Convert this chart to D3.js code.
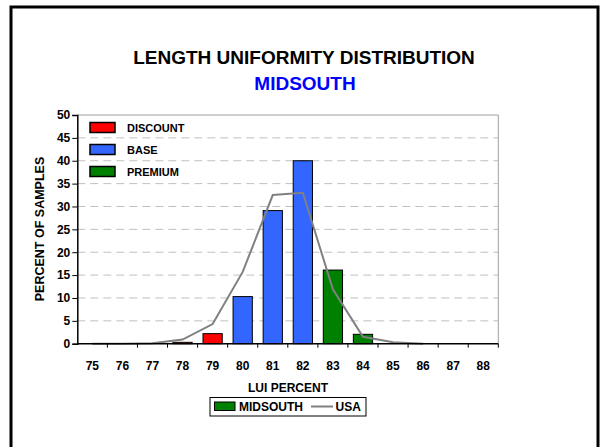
<!DOCTYPE html>
<html>
<head>
<meta charset="utf-8">
<script src="https://cdn.jsdelivr.net/npm/d3@7"></script>
<style>
  html, body { margin: 0; padding: 0; background: #fff; }
  svg { display: block; font-family: "Liberation Sans", Arial, sans-serif; }
</style>
</head>
<body>
<svg id="chart" width="600" height="447"></svg>
<script>
// LUI percent categories
const categories = ["75","76","77","78","79","80","81","82","83","84","85","86","87","88"];
// Midsouth percent of samples per category
const midsouthValues = [0, 0, 0, 0.3, 2.2, 10.3, 29.1, 40, 16.1, 2.05, 0, 0, 0, 0];
// Grade class of each Midsouth bar
const barClass = ["BASE","BASE","BASE","DISCOUNT","DISCOUNT","BASE","BASE","BASE","PREMIUM","PREMIUM","PREMIUM","PREMIUM","PREMIUM","PREMIUM"];
// USA distribution (line)
const usaValues = [0, 0, 0.1, 0.9, 4.3, 15.7, 32.5, 33.0, 11.9, 1.5, 0.3, 0, null, null];
// Y tick values
const yTicks = [0, 5, 10, 15, 20, 25, 30, 35, 40, 45, 50];
// Grade classes shown in the upper legend
const gradeNames = ["DISCOUNT", "BASE", "PREMIUM"];

const gradeColor = { DISCOUNT: "#ff0000", BASE: "#3366ff", PREMIUM: "#008000" };
const lineColor = "#808080";

const svg = d3.select("#chart");

// outer frame
svg.append("rect")
  .attr("x", 11).attr("y", 7).attr("width", 587).attr("height", 470)
  .attr("fill", "none").attr("stroke", "#000").attr("stroke-width", 3);

// titles
svg.append("text").attr("x", 304).attr("y", 64).attr("text-anchor", "middle")
  .attr("font-size", 19).attr("font-weight", "bold").attr("fill", "#000")
  .text("LENGTH UNIFORMITY DISTRIBUTION");
svg.append("text").attr("x", 305).attr("y", 90).attr("text-anchor", "middle")
  .attr("font-size", 19).attr("font-weight", "bold").attr("fill", "#0000ff")
  .text("MIDSOUTH");

const plot = { left: 77.3, right: 498.3, top: 115, bottom: 343.7 };

const x = d3.scaleBand().domain(categories)
  .range([plot.left, plot.right]).paddingInner(0.36).paddingOuter(0.18);
const y = d3.scaleLinear().domain([0, 50]).range([plot.bottom, plot.top]);

// dashed gridlines
svg.append("g").selectAll("line")
  .data(yTicks.filter(t => t > 0 && t < 50))
  .join("line")
  .attr("x1", plot.left).attr("x2", plot.right)
  .attr("y1", d => y(d)).attr("y2", d => y(d))
  .attr("stroke", "#c0c0c0").attr("stroke-width", 1)
  .attr("stroke-dasharray", "8,5");

// plot frame (top and right)
svg.append("path")
  .attr("d", `M${plot.left},${plot.top}H${plot.right}V${plot.bottom}`)
  .attr("fill", "none").attr("stroke", "#a0a0a0").attr("stroke-width", 1);

// bars
svg.append("g").selectAll("rect")
  .data(categories.map((c, i) => ({ c, v: midsouthValues[i], k: barClass[i] })).filter(d => d.v > 0))
  .join("rect")
  .attr("x", d => x(d.c))
  .attr("y", d => y(d.v))
  .attr("width", x.bandwidth())
  .attr("height", d => y(0) - y(d.v))
  .attr("fill", d => gradeColor[d.k])
  .attr("stroke", "#000").attr("stroke-width", 1);

// USA line
const line = d3.line()
  .defined(d => d.v !== null)
  .x(d => x(d.c) + x.bandwidth() / 2)
  .y(d => y(d.v));
svg.append("path")
  .datum(categories.map((c, i) => ({ c, v: usaValues[i] })))
  .attr("d", line)
  .attr("fill", "none").attr("stroke", lineColor).attr("stroke-width", 2);

// Y axis
const yAxis = d3.axisLeft(y).tickValues(yTicks).tickSize(5).tickPadding(2);
const gy = svg.append("g").attr("transform", `translate(${plot.left},0)`).call(yAxis);
gy.select(".domain").attr("stroke", "#000").attr("stroke-width", 1.5);
gy.selectAll(".tick line").attr("stroke", "#000");
gy.selectAll(".tick text").attr("font-size", 12).attr("font-weight", "bold")
  .attr("font-family", "Liberation Sans, Arial, sans-serif").attr("fill", "#000");

// X axis: tick marks at category boundaries, labels at centres
const step = x.step();
const gx = svg.append("g");
gx.append("line")
  .attr("x1", plot.left).attr("x2", plot.right)
  .attr("y1", plot.bottom).attr("y2", plot.bottom)
  .attr("stroke", "#000").attr("stroke-width", 1.5);
gx.selectAll("line.tk")
  .data(categories)
  .join("line").attr("class", "tk")
  .attr("x1", (d, i) => plot.left + (i + 1) * step)
  .attr("x2", (d, i) => plot.left + (i + 1) * step)
  .attr("y1", plot.bottom).attr("y2", plot.bottom + 4)
  .attr("stroke", "#000").attr("stroke-width", 1);
gx.selectAll("text")
  .data(categories)
  .join("text")
  .attr("x", d => x(d) + x.bandwidth() / 2)
  .attr("y", 369.5)
  .attr("text-anchor", "middle")
  .attr("font-size", 12).attr("font-weight", "bold").attr("fill", "#000")
  .text(d => d);

// axis titles
svg.append("text").attr("x", 288).attr("y", 392).attr("text-anchor", "middle")
  .attr("font-size", 12).attr("font-weight", "bold").text("LUI PERCENT");
svg.append("text")
  .attr("transform", "translate(44,229) rotate(-90)")
  .attr("text-anchor", "middle")
  .attr("font-size", 12.5).attr("font-weight", "bold").text("PERCENT OF SAMPLES");

// grade legend inside the plot
const lg = svg.append("g").selectAll("g")
  .data(gradeNames).join("g")
  .attr("transform", (d, i) => `translate(90,${122.5 + i * 22})`);
lg.append("rect").attr("width", 25).attr("height", 10)
  .attr("fill", d => gradeColor[d]).attr("stroke", "#000").attr("stroke-width", 1.5);
lg.append("text").attr("x", 37).attr("y", 9)
  .attr("font-size", 11).attr("font-weight", "bold").text(d => d);

// series legend below the axis
const bl = svg.append("g");
bl.append("rect").attr("x", 210).attr("y", 397.5).attr("width", 156).attr("height", 18.5)
  .attr("fill", "#fff").attr("stroke", "#000").attr("stroke-width", 1);
bl.append("rect").attr("x", 214.5).attr("y", 402).attr("width", 20.5).attr("height", 8.5)
  .attr("fill", gradeColor.PREMIUM).attr("stroke", "#000").attr("stroke-width", 1);
bl.append("text").attr("x", 239).attr("y", 411).attr("font-size", 12).attr("font-weight", "bold")
  .text("MIDSOUTH");
bl.append("line").attr("x1", 311).attr("x2", 333).attr("y1", 406.5).attr("y2", 406.5)
  .attr("stroke", lineColor).attr("stroke-width", 2);
bl.append("text").attr("x", 335.5).attr("y", 411).attr("font-size", 12).attr("font-weight", "bold")
  .text("USA");
</script>
</body>
</html>
